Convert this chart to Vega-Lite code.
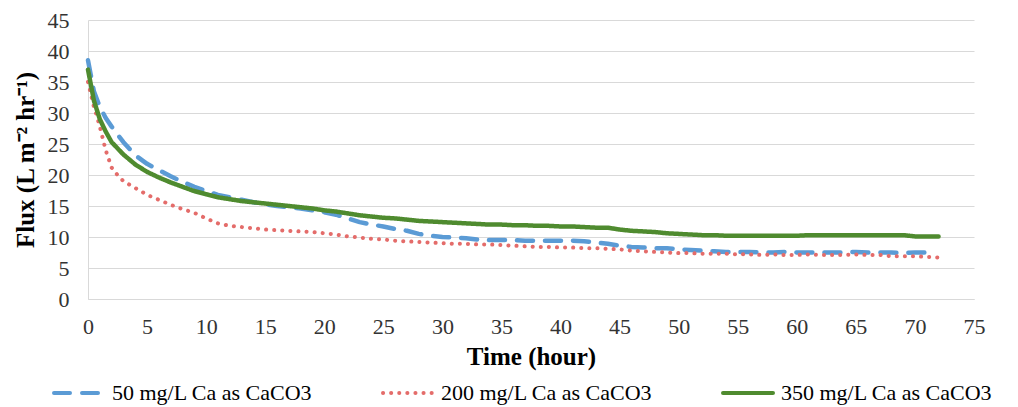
{
  "$schema": "https://vega.github.io/schema/vega-lite/v6.json",
  "width": 886,
  "height": 279,
  "autosize": {"type": "none"},
  "padding": {"left": 88, "top": 20, "right": 44, "bottom": 108},
  "config": {"font": "Liberation Serif", "view": {"stroke": null}, "axis": {"labelFont": "Liberation Serif", "titleFont": "Liberation Serif"}, "legend": {"labelFont": "Liberation Serif"}},
  "datasets": {
    "s50": [
      {"t":0,"flux":38.5},{"t":0.25,"flux":36.0},{"t":0.5,"flux":33.5},{"t":1,"flux":31.0},{"t":1.5,"flux":29.2},{"t":2,"flux":27.8},{"t":3,"flux":25.3},{"t":4,"flux":23.2},{"t":5,"flux":21.8},{"t":6,"flux":20.8},{"t":7,"flux":19.8},{"t":8,"flux":18.9},{"t":9,"flux":18.1},{"t":10,"flux":17.4},{"t":11,"flux":16.8},{"t":12,"flux":16.4},{"t":13,"flux":16.0},{"t":14,"flux":15.6},{"t":15,"flux":15.3},{"t":16,"flux":15.0},{"t":17,"flux":14.8},{"t":18,"flux":14.6},{"t":19,"flux":14.3},{"t":20,"flux":14.0},{"t":21,"flux":13.6},{"t":22,"flux":13.0},{"t":23,"flux":12.4},{"t":24,"flux":12.0},{"t":25,"flux":11.7},{"t":26,"flux":11.3},{"t":27,"flux":11.0},{"t":28,"flux":10.5},{"t":29,"flux":10.2},{"t":30,"flux":10.0},{"t":31,"flux":9.9},{"t":32,"flux":9.8},{"t":33,"flux":9.6},{"t":34,"flux":9.5},{"t":35,"flux":9.5},{"t":36,"flux":9.5},{"t":37,"flux":9.4},{"t":38,"flux":9.4},{"t":39,"flux":9.4},{"t":40,"flux":9.4},{"t":41,"flux":9.4},{"t":42,"flux":9.3},{"t":43,"flux":9.1},{"t":44,"flux":8.9},{"t":45,"flux":8.6},{"t":46,"flux":8.4},{"t":47,"flux":8.3},{"t":48,"flux":8.2},{"t":49,"flux":8.2},{"t":50,"flux":8.0},{"t":51,"flux":7.9},{"t":52,"flux":7.8},{"t":53,"flux":7.7},{"t":54,"flux":7.6},{"t":55,"flux":7.6},{"t":56,"flux":7.6},{"t":57,"flux":7.5},{"t":58,"flux":7.5},{"t":59,"flux":7.6},{"t":60,"flux":7.5},{"t":61,"flux":7.5},{"t":62,"flux":7.5},{"t":63,"flux":7.5},{"t":64,"flux":7.5},{"t":65,"flux":7.6},{"t":66,"flux":7.5},{"t":67,"flux":7.5},{"t":68,"flux":7.5},{"t":69,"flux":7.4},{"t":70,"flux":7.5},{"t":71,"flux":7.5}
    ],
    "s200": [
      {"t":0,"flux":35.0},{"t":0.25,"flux":33.0},{"t":0.5,"flux":31.0},{"t":0.75,"flux":29.5},{"t":1,"flux":27.8},{"t":1.5,"flux":24.0},{"t":2,"flux":21.2},{"t":2.5,"flux":20.0},{"t":3,"flux":19.0},{"t":4,"flux":17.9},{"t":5,"flux":16.8},{"t":6,"flux":16.0},{"t":7,"flux":15.2},{"t":8,"flux":14.5},{"t":9,"flux":13.9},{"t":10,"flux":13.0},{"t":11,"flux":12.2},{"t":12,"flux":11.8},{"t":13,"flux":11.6},{"t":14,"flux":11.4},{"t":15,"flux":11.2},{"t":16,"flux":11.1},{"t":17,"flux":11.0},{"t":18,"flux":10.9},{"t":19,"flux":10.8},{"t":20,"flux":10.6},{"t":21,"flux":10.4},{"t":22,"flux":10.1},{"t":23,"flux":9.9},{"t":24,"flux":9.7},{"t":25,"flux":9.6},{"t":26,"flux":9.4},{"t":27,"flux":9.3},{"t":28,"flux":9.2},{"t":29,"flux":9.1},{"t":30,"flux":9.0},{"t":31,"flux":8.9},{"t":32,"flux":8.9},{"t":33,"flux":8.8},{"t":34,"flux":8.8},{"t":35,"flux":8.7},{"t":36,"flux":8.6},{"t":37,"flux":8.5},{"t":38,"flux":8.4},{"t":39,"flux":8.4},{"t":40,"flux":8.3},{"t":41,"flux":8.3},{"t":42,"flux":8.2},{"t":43,"flux":8.2},{"t":44,"flux":8.1},{"t":45,"flux":8.0},{"t":46,"flux":7.8},{"t":47,"flux":7.7},{"t":48,"flux":7.6},{"t":49,"flux":7.5},{"t":50,"flux":7.4},{"t":51,"flux":7.4},{"t":52,"flux":7.3},{"t":53,"flux":7.3},{"t":54,"flux":7.3},{"t":55,"flux":7.2},{"t":56,"flux":7.2},{"t":57,"flux":7.1},{"t":58,"flux":7.2},{"t":59,"flux":7.1},{"t":60,"flux":7.1},{"t":61,"flux":7.2},{"t":62,"flux":7.1},{"t":63,"flux":7.1},{"t":64,"flux":7.1},{"t":65,"flux":7.2},{"t":66,"flux":7.1},{"t":67,"flux":7.1},{"t":68,"flux":6.9},{"t":69,"flux":6.9},{"t":70,"flux":6.9},{"t":71,"flux":6.8},{"t":72,"flux":6.7}
    ],
    "s350": [
      {"t":0,"flux":37.0},{"t":0.25,"flux":34.5},{"t":0.5,"flux":32.0},{"t":1,"flux":29.0},{"t":1.5,"flux":27.0},{"t":2,"flux":25.3},{"t":3,"flux":23.3},{"t":4,"flux":21.7},{"t":5,"flux":20.5},{"t":6,"flux":19.6},{"t":7,"flux":18.8},{"t":8,"flux":18.1},{"t":9,"flux":17.4},{"t":10,"flux":16.9},{"t":11,"flux":16.4},{"t":12,"flux":16.1},{"t":13,"flux":15.8},{"t":14,"flux":15.6},{"t":15,"flux":15.4},{"t":16,"flux":15.2},{"t":17,"flux":15.0},{"t":18,"flux":14.8},{"t":19,"flux":14.6},{"t":20,"flux":14.3},{"t":21,"flux":14.1},{"t":22,"flux":13.8},{"t":23,"flux":13.5},{"t":24,"flux":13.3},{"t":25,"flux":13.1},{"t":26,"flux":13.0},{"t":27,"flux":12.8},{"t":28,"flux":12.6},{"t":29,"flux":12.5},{"t":30,"flux":12.4},{"t":31,"flux":12.3},{"t":32,"flux":12.2},{"t":33,"flux":12.1},{"t":34,"flux":12.0},{"t":35,"flux":12.0},{"t":36,"flux":11.9},{"t":37,"flux":11.9},{"t":38,"flux":11.8},{"t":39,"flux":11.8},{"t":40,"flux":11.7},{"t":41,"flux":11.7},{"t":42,"flux":11.6},{"t":43,"flux":11.5},{"t":44,"flux":11.5},{"t":45,"flux":11.2},{"t":46,"flux":11.0},{"t":47,"flux":10.9},{"t":48,"flux":10.8},{"t":49,"flux":10.6},{"t":50,"flux":10.5},{"t":51,"flux":10.4},{"t":52,"flux":10.3},{"t":53,"flux":10.3},{"t":54,"flux":10.2},{"t":55,"flux":10.2},{"t":56,"flux":10.2},{"t":57,"flux":10.2},{"t":58,"flux":10.2},{"t":59,"flux":10.2},{"t":60,"flux":10.2},{"t":61,"flux":10.3},{"t":62,"flux":10.3},{"t":63,"flux":10.3},{"t":64,"flux":10.3},{"t":65,"flux":10.3},{"t":66,"flux":10.3},{"t":67,"flux":10.3},{"t":68,"flux":10.3},{"t":69,"flux":10.3},{"t":70,"flux":10.1},{"t":71,"flux":10.1},{"t":72,"flux":10.1}
    ]
  },
  "layer": [
    {
      "data": {"name": "s50"},
      "transform": [{"calculate": "'50 mg/L Ca as CaCO3'", "as": "series"}],
      "mark": {"type": "line", "strokeWidth": 4.5, "strokeCap": "round", "strokeJoin": "round"},
      "encoding": {
        "x": {"field": "t", "type": "quantitative"},
        "y": {"field": "flux", "type": "quantitative"},
        "color": {"field": "series", "type": "nominal"},
        "strokeDash": {"field": "series", "type": "nominal"}
      }
    },
    {
      "data": {"name": "s200"},
      "transform": [{"calculate": "'200 mg/L Ca as CaCO3'", "as": "series"}],
      "mark": {"type": "line", "strokeWidth": 4, "strokeCap": "round", "strokeJoin": "round"},
      "encoding": {
        "x": {"field": "t", "type": "quantitative"},
        "y": {"field": "flux", "type": "quantitative"},
        "color": {"field": "series", "type": "nominal"},
        "strokeDash": {"field": "series", "type": "nominal"}
      }
    },
    {
      "data": {"name": "s350"},
      "transform": [{"calculate": "'350 mg/L Ca as CaCO3'", "as": "series"}],
      "mark": {"type": "line", "strokeWidth": 4.5, "strokeCap": "round", "strokeJoin": "round"},
      "encoding": {
        "x": {"field": "t", "type": "quantitative", "scale": {"domain": [0, 75], "nice": false},
          "axis": {"title": "Time (hour)", "values": [0,5,10,15,20,25,30,35,40,45,50,55,60,65,70,75], "tickCount": 30, "grid": false, "ticks": false, "domainColor": "#d9d9d9", "domainWidth": 1, "labelFont": "Liberation Serif", "labelFontSize": 22, "labelColor": "#333333", "labelPadding": 17, "labelOverlap": false, "labelBound": false, "labelFlush": false, "titleFont": "Liberation Serif", "titleFontSize": 25, "titleFontWeight": "bold", "titleColor": "#000000", "titlePadding": 7}},
        "y": {"field": "flux", "type": "quantitative", "scale": {"domain": [0, 45], "nice": false},
          "axis": {"title": "Flux (L m⁻² hr⁻¹)", "values": [0,5,10,15,20,25,30,35,40,45], "tickCount": 20, "grid": true, "gridColor": "#d9d9d9", "gridWidth": 1, "ticks": false, "domainColor": "#d9d9d9", "labelFont": "Liberation Serif", "labelFontSize": 22, "labelColor": "#333333", "labelPadding": 19, "labelOverlap": false, "labelBound": false, "labelFlush": false, "titleFont": "Liberation Serif", "titleFontSize": 25, "titleFontWeight": "bold", "titleColor": "#000000", "titlePadding": 9}},
        "color": {"field": "series", "type": "nominal",
          "scale": {"domain": ["50 mg/L Ca as CaCO3", "200 mg/L Ca as CaCO3", "350 mg/L Ca as CaCO3"], "range": ["#5B9BD5", "#E46C6A", "#4F8B2F"]},
          "legend": {"orient": "none", "legendX": -36, "legendY": 346, "direction": "horizontal", "title": null, "symbolType": "stroke", "symbolSize": 2500, "symbolStrokeWidth": 4, "labelFont": "Liberation Serif", "labelFontSize": 22, "labelColor": "#000000", "labelLimit": 0, "labelOffset": 6, "columnPadding": 62, "encode": {"symbols": {"update": {"strokeCap": {"value": "round"}}}}}},
        "strokeDash": {"field": "series", "type": "nominal",
          "scale": {"domain": ["50 mg/L Ca as CaCO3", "200 mg/L Ca as CaCO3", "350 mg/L Ca as CaCO3"], "range": [[16, 12], [0.1, 8], [1, 0]]},
          "legend": {"orient": "none", "legendX": -36, "legendY": 346, "direction": "horizontal", "title": null, "symbolType": "stroke", "symbolSize": 2500, "symbolStrokeWidth": 4, "labelFont": "Liberation Serif", "labelFontSize": 22, "labelColor": "#000000", "labelLimit": 0, "labelOffset": 6, "columnPadding": 62, "encode": {"symbols": {"update": {"strokeCap": {"value": "round"}}}}}}
      }
    }
  ]
}
